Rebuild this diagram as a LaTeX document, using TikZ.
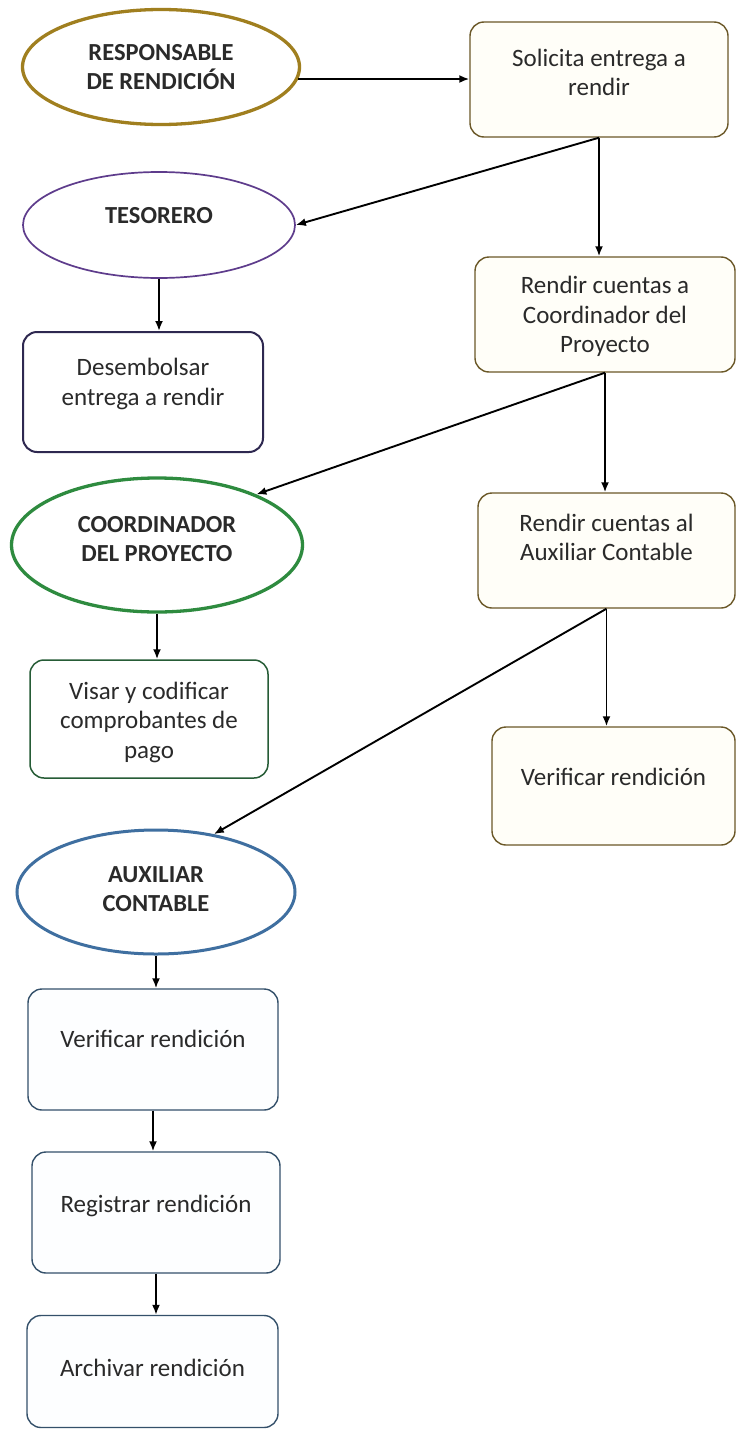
\documentclass[tikz,border=0pt]{standalone}
\usepackage{fontspec}
\setmainfont{Carlito}
\usetikzlibrary{shapes.geometric,arrows.meta}

\definecolor{goldline}{HTML}{A07F1F}
\definecolor{creamline}{HTML}{6B5828}
\definecolor{creamfill}{HTML}{FFFEF8}
\definecolor{violetline}{HTML}{5E3C8C}
\definecolor{navyline}{HTML}{2E2850}
\definecolor{greenline}{HTML}{2E8B3F}
\definecolor{darkgreenline}{HTML}{265C36}
\definecolor{blueline}{HTML}{3F6FA0}
\definecolor{slateline}{HTML}{34506A}
\definecolor{bluefill}{HTML}{FDFEFF}
\definecolor{inktext}{HTML}{2A2A2A}

\begin{document}
\begin{tikzpicture}[x=1pt,y=-1pt,
  role/.style={ellipse, draw, inner sep=0pt, fill=white},
  task/.style={rectangle, draw, rounded corners=14pt, inner sep=0pt},
  txt/.style={anchor=center, align=center, inner sep=0pt, text=inktext,
    font=\fontsize{25}{29.5}\selectfont},
  rtxt/.style={txt, font=\bfseries\fontsize{24.5}{29}\selectfont},
  cream/.style={task, draw=creamline, fill=creamfill, line width=1.4pt},
  pale/.style={task, draw=slateline, fill=bluefill, line width=1.4pt},
  flow/.style={draw=black, line width=1.9pt, -{Latex[length=10pt,width=8pt]}}
]
\useasboundingbox (0,0) rectangle (737,1429);
\fill[white] (0,0) rectangle (737,1429);

% roles (ellipses)
\node[role, draw=goldline, line width=3.3pt, minimum width=277pt, minimum height=115pt,
  label={[rtxt]center:RESPONSABLE\\DE RENDICIÓN}] (resp) at (161,67) {};
\node[role, draw=violetline, line width=1.7pt, minimum width=272pt, minimum height=106pt,
  label={[rtxt, yshift=9pt]center:TESORERO}] (tes) at (159,225) {};
\node[role, draw=greenline, line width=3.3pt, minimum width=291pt, minimum height=134pt,
  label={[rtxt, yshift=6pt]center:COORDINADOR\\DEL PROYECTO}] (coord) at (157,545) {};
\node[role, draw=blueline, line width=3pt, minimum width=278pt, minimum height=124pt,
  label={[rtxt, yshift=3pt]center:AUXILIAR\\CONTABLE}] (aux) at (156,892) {};

% tasks on the right
\node[cream, minimum width=258pt, minimum height=115pt,
  label={[txt, yshift=7pt]center:Solicita entrega a\\rendir}] (sol) at (599,79.5) {};
\node[cream, minimum width=260pt, minimum height=115pt,
  label={[txt, yshift=-2pt]center:Rendir cuentas a\\Coordinador del\\Proyecto}] (ren1) at (605,314.5) {};
\node[cream, minimum width=257pt, minimum height=115pt,
  label={[txt, yshift=13pt]center:Rendir cuentas al\\Auxiliar Contable}] (ren2) at (606.5,550.5) {};
\node[cream, minimum width=243pt, minimum height=118pt,
  label={[txt, yshift=9pt]center:Verificar rendición}] (ver1) at (613.5,786) {};

% tasks on the left
\node[task, draw=navyline, fill=white, line width=2pt, minimum width=240pt, minimum height=120pt,
  label={[txt, yshift=8pt]center:Desembolsar\\entrega a rendir}] (des) at (143,392) {};
\node[task, draw=darkgreenline, fill=white, line width=1.5pt, minimum width=238pt, minimum height=118pt,
  label={[txt, yshift=-3pt]center:Visar y codificar\\comprobantes de\\pago}] (visar) at (149,719) {};
\node[pale, minimum width=250pt, minimum height=121pt,
  label={[txt, yshift=11pt]center:Verificar rendición}] (ver2) at (153,1049.5) {};
\node[pale, minimum width=248pt, minimum height=121pt,
  label={[txt, yshift=7pt]center:Registrar rendición}] (reg) at (156,1212.5) {};
\node[pale, minimum width=251pt, minimum height=112pt,
  label={[txt, yshift=4pt]center:Archivar rendición}] (arch) at (152.5,1371.5) {};

% connectors
\draw[flow] (resp.-5) -- (resp.-5 -| sol.west);
\draw[flow] (sol.south) -- (tes.east);
\draw[flow] (sol.south) -- (sol.south |- ren1.north);
\draw[flow] (ren1.south) -- (coord.27);
\draw[flow] (ren1.south) -- (ren1.south |- ren2.north);
\draw[flow] (ren2.south) -- (aux.45);
\draw[flow] (ren2.south) -- (ren2.south |- ver1.north);
\draw[flow] (tes.south) -- (tes.south |- des.north);
\draw[flow] (coord.south) -- (coord.south |- visar.north);
\draw[flow] (aux.south) -- (aux.south |- ver2.north);
\draw[flow] (ver2.south) -- (ver2.south |- reg.north);
\draw[flow] (reg.south) -- (reg.south |- arch.north);
\end{tikzpicture}
\end{document}
